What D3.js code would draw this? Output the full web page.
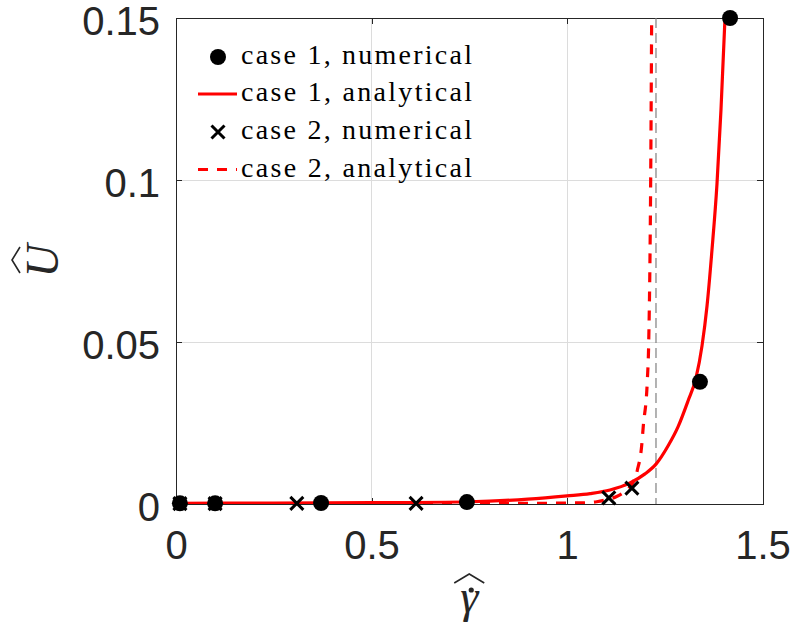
<!DOCTYPE html>
<html>
<head>
<meta charset="utf-8">
<script src="https://cdn.jsdelivr.net/npm/d3@7"></script>
<style>
  html, body { margin: 0; padding: 0; background: #fff; }
  svg { display: block; }
</style>
</head>
<body>
<svg id="chart" width="794" height="631"></svg>
<script>
// ---------------- data ----------------
const xTicks = [0, 0.5, 1, 1.5];
const xTickLabels = ["0", "0.5", "1", "1.5"];
const yTicks = [0, 0.05, 0.1, 0.15];
const yTickLabels = ["0", "0.05", "0.1", "0.15"];

const case1NumX = [0.01, 0.1, 0.371, 0.744, 1.340, 1.417];
const case1NumY = [0.0002, 0.0002, 0.0003, 0.0006, 0.0377, 0.150];

const case2NumX = [0.01, 0.1, 0.309, 0.614, 1.107, 1.166];
const case2NumY = [0.0001, 0.0001, 0.0002, 0.0002, 0.0019, 0.0049];

const case1AnaX = [0, 0.25, 0.5, 0.75, 0.9, 1.0, 1.059, 1.11, 1.161, 1.1995, 1.2276, 1.2583, 1.2839, 1.3095, 1.3299, 1.3453, 1.3581, 1.3708, 1.3836, 1.3939, 1.4041];
const case1AnaY = [0.0002, 0.0003, 0.0004, 0.0007, 0.0015, 0.0025, 0.0032, 0.0043, 0.0065, 0.0093, 0.0123, 0.0179, 0.0238, 0.0318, 0.0389, 0.0488, 0.0611, 0.0784, 0.0988, 0.1219, 0.15];

const case2AnaX = [0, 0.3, 0.6, 0.9, 1.0, 1.05, 1.076, 1.1, 1.127, 1.15, 1.161, 1.18, 1.191, 1.195, 1.2055, 1.209, 1.214, 1.2165];
const case2AnaY = [0, 0.0001, 0.0001, 0.0002, 0.0003, 0.0004, 0.0007, 0.0013, 0.0023, 0.0040, 0.0053, 0.0105, 0.018, 0.0239, 0.0383, 0.05, 0.1, 0.15];

const asymptoteX = [1.2276];

const legendLabels = ["case 1, numerical", "case 1, analytical", "case 2, numerical", "case 2, analytical"];

// ---------------- layout ----------------
const svg = d3.select("#chart");
const L = 176, R = 762.5, T = 18, B = 504;
const x = d3.scaleLinear().domain([0, 1.5]).range([L, R]);
const y = d3.scaleLinear().domain([0, 0.15]).range([B, T]);

const axisColor = "#262626";
const tickFont = "'Liberation Sans', Arial, Helvetica, sans-serif";
const serif = "'Liberation Serif', 'Times New Roman', serif";

svg.append("defs").append("clipPath").attr("id", "clip")
  .append("rect").attr("x", L).attr("y", T).attr("width", R - L).attr("height", B - T);

// grid
const grid = svg.append("g").attr("stroke", "#dcdcdc").attr("stroke-width", 1).attr("shape-rendering", "crispEdges");
grid.selectAll("line.gx").data(xTicks.filter(d => d > 0 && d < 1.5)).join("line")
  .attr("x1", d => x(d)).attr("x2", d => x(d)).attr("y1", T).attr("y2", B);
grid.selectAll("line.gy").data(yTicks.filter(d => d > 0 && d < 0.15)).join("line")
  .attr("y1", d => y(d)).attr("y2", d => y(d)).attr("x1", L).attr("x2", R);

// axes
function styleAxis(g) {
  g.select(".domain").attr("stroke", axisColor).attr("stroke-width", 1);
  g.selectAll(".tick line").attr("stroke", axisColor).attr("stroke-width", 1);
  g.selectAll("text").attr("fill", axisColor).attr("font-family", tickFont).attr("font-size", 40);
  g.attr("shape-rendering", "crispEdges");
}
const xAxis = d3.axisBottom(x).tickValues(xTicks).tickSize(-6).tickSizeOuter(0).tickPadding(27)
  .tickFormat((d, i) => xTickLabels[i]);
svg.append("g").attr("transform", `translate(0,${B})`).call(xAxis).call(styleAxis);

const xAxisTop = d3.axisTop(x).tickValues(xTicks).tickSize(-6).tickSizeOuter(0).tickFormat("");
svg.append("g").attr("transform", `translate(0,${T})`).call(xAxisTop).call(styleAxis);

const yAxis = d3.axisLeft(y).tickValues(yTicks).tickSize(-6).tickSizeOuter(0).tickPadding(16)
  .tickFormat((d, i) => yTickLabels[i]);
const gy = svg.append("g").attr("transform", `translate(${L},0)`).call(yAxis).call(styleAxis);
gy.selectAll("text").attr("dy", "0.40em");

const yAxisRight = d3.axisRight(y).tickValues(yTicks).tickSize(-6).tickSizeOuter(0).tickFormat("");
svg.append("g").attr("transform", `translate(${R},0)`).call(yAxisRight).call(styleAxis);

// asymptote
svg.append("g").selectAll("line").data(asymptoteX).join("line")
  .attr("x1", d => x(d)).attr("x2", d => x(d)).attr("y1", T).attr("y2", B)
  .attr("stroke", "#808080").attr("stroke-width", 1.2).attr("stroke-dasharray", "10,5");

// curves
const line = d3.line().x(d => x(d[0])).y(d => y(d[1])).curve(d3.curveMonotoneX);
const c1 = case1AnaX.map((v, i) => [v, case1AnaY[i]]);
const c2 = case2AnaX.map((v, i) => [v, case2AnaY[i]]);
const curves = svg.append("g").attr("clip-path", "url(#clip)");
curves.append("path").datum(c2).attr("d", line).attr("fill", "none")
  .attr("stroke", "#ff0000").attr("stroke-width", 3.2).attr("stroke-dasharray", "10,9");
curves.append("path").datum(c1).attr("d", line).attr("fill", "none")
  .attr("stroke", "#ff0000").attr("stroke-width", 3.2);

// markers
const n1 = case1NumX.map((v, i) => [v, case1NumY[i]]);
const n2 = case2NumX.map((v, i) => [v, case2NumY[i]]);
svg.append("g").selectAll("circle").data(n1).join("circle")
  .attr("cx", d => x(d[0])).attr("cy", d => y(d[1])).attr("r", 8).attr("fill", "#000");
const xm = 6.5;
svg.append("g").selectAll("path").data(n2).join("path")
  .attr("d", d => {
    const cx = x(d[0]), cy = y(d[1]);
    return `M${cx - xm},${cy - xm}L${cx + xm},${cy + xm}M${cx - xm},${cy + xm}L${cx + xm},${cy - xm}`;
  })
  .attr("stroke", "#000").attr("stroke-width", 3).attr("fill", "none");

// legend
const leg = svg.append("g");
const rowY = [57, 94, 132, 169.5];
const textX = 241;
leg.selectAll("text").data(legendLabels).join("text")
  .attr("x", textX).attr("y", (d, i) => rowY[i] + 7)
  .attr("font-family", serif).attr("font-size", 28).attr("fill", "#000")
  .attr("textLength", 231).attr("lengthAdjust", "spacing")
  .text(d => d);
leg.append("circle").attr("cx", 218).attr("cy", rowY[0]).attr("r", 8).attr("fill", "#000");
leg.append("line").attr("x1", 198).attr("x2", 237).attr("y1", rowY[1]).attr("y2", rowY[1])
  .attr("stroke", "#ff0000").attr("stroke-width", 3.2);
leg.append("path")
  .attr("d", `M${218 - xm},${rowY[2] - xm}L${218 + xm},${rowY[2] + xm}M${218 - xm},${rowY[2] + xm}L${218 + xm},${rowY[2] - xm}`)
  .attr("stroke", "#000").attr("stroke-width", 3).attr("fill", "none");
leg.append("line").attr("x1", 198).attr("x2", 237).attr("y1", rowY[3]).attr("y2", rowY[3])
  .attr("stroke", "#ff0000").attr("stroke-width", 3.2).attr("stroke-dasharray", "10,9");

// axis labels
const yl = svg.append("g").attr("transform", `translate(58,${(T + B) / 2}) rotate(-90)`);
yl.append("text").attr("x", 0).attr("y", 0).attr("text-anchor", "middle")
  .attr("font-family", serif).attr("font-style", "italic").attr("font-size", 46).attr("fill", "#262626")
  .text("U");
yl.append("path").attr("d", "M-12,-38 L1,-46 L14,-38").attr("fill", "none")
  .attr("stroke", "#262626").attr("stroke-width", 1.6);

const xl = svg.append("g").attr("transform", `translate(${(L + R) / 2},0)`);
xl.append("text").attr("x", 0).attr("y", 612).attr("text-anchor", "middle")
  .attr("font-family", serif).attr("font-style", "italic").attr("font-size", 46).attr("fill", "#262626")
  .text("γ");
xl.append("circle").attr("cx", 2).attr("cy", 590).attr("r", 2.6).attr("fill", "#262626");
xl.append("path").attr("d", "M-15,583 L0,574 L15,583").attr("fill", "none")
  .attr("stroke", "#262626").attr("stroke-width", 1.6);
</script>
</body>
</html>
